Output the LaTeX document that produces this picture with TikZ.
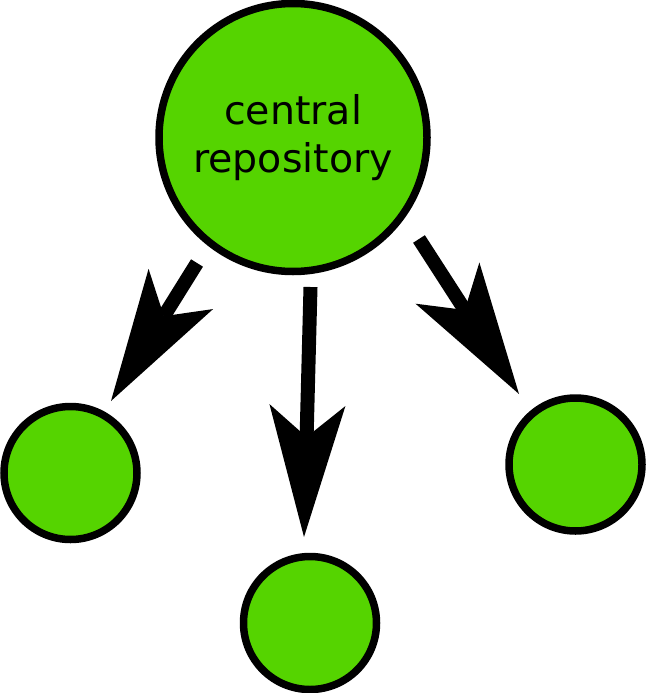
\documentclass[tikz,border=0pt]{standalone}
\usepackage{fontspec}
\setmainfont{DejaVu Sans}
\usetikzlibrary{arrows.meta}
\definecolor{repogreen}{HTML}{55D400}
\tikzset{
  repo/.style={circle, draw=black, fill=repogreen, line width=7.5pt, inner sep=0pt},
  bigrepo/.style={repo, minimum size=268pt, align=center, font=\fontsize{39.5}{48}\selectfont},
  smallrepo/.style={repo, minimum size=133pt},
  pusharrow/.style={line width=14pt, -{Stealth[length=132pt,width=76pt,inset=32pt,line width=0pt]}}
}
\begin{document}
\begin{tikzpicture}[x=1pt,y=-1pt]
\useasboundingbox (0,0) rectangle (647,693);
\node[bigrepo] (c) at (293,137.5) {central\\repository};
\node[smallrepo] (l) at (70.5,473) {};
\node[smallrepo] (m) at (310,623) {};
\node[smallrepo] (r) at (575.5,464.5) {};
\coordinate (ls) at (197,263);
\coordinate (lt) at (111,401);
\coordinate (ms) at (310.5,287);
\coordinate (mt) at (304,537);
\coordinate (rs) at (419,239);
\coordinate (rt) at (519,394);
\draw[pusharrow] (ls) -- (lt);
\draw[pusharrow] (ms) -- (mt);
\draw[pusharrow] (rs) -- (rt);
\end{tikzpicture}
\end{document}
